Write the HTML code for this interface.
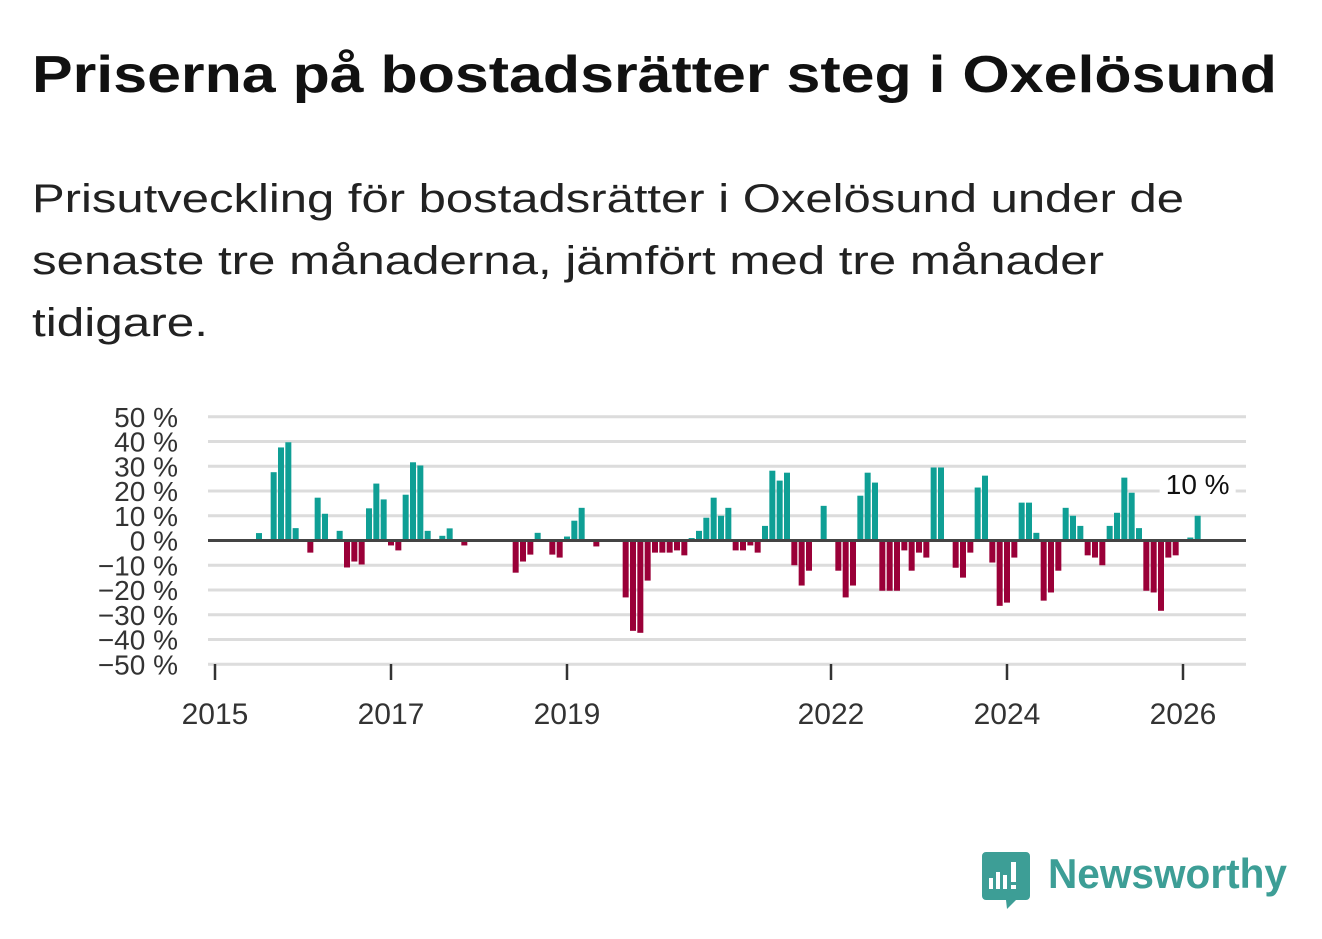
<!DOCTYPE html>
<html><head><meta charset="utf-8"><style>
body{margin:0;background:#fff;width:1322px;height:939px;overflow:hidden}
svg{display:block}
</style></head><body>
<svg id="chart" width="1322" height="939" xmlns="http://www.w3.org/2000/svg">
<text x="32" y="92" font-family="'Liberation Sans',sans-serif" font-weight="bold" font-size="52" fill="#111" textLength="1245" lengthAdjust="spacingAndGlyphs">Priserna på bostadsrätter steg i Oxelösund</text>
<g font-family="'Liberation Sans',sans-serif" font-size="40" fill="#222">
<text x="32" y="212" textLength="1152" lengthAdjust="spacingAndGlyphs">Prisutveckling för bostadsrätter i Oxelösund under de</text>
<text x="32" y="274" textLength="1072" lengthAdjust="spacingAndGlyphs">senaste tre månaderna, jämfört med tre månader</text>
<text x="32" y="336" textLength="176" lengthAdjust="spacingAndGlyphs">tidigare.</text>
</g>
<g id="grid"></g>
<g id="bars"></g>
<g id="axes"></g>
<g>
<path d="M986 852 h40 a4 4 0 0 1 4 4 v40 a4 4 0 0 1 -4 4 h-10 l-9 9 l-1 -9 h-20 a4 4 0 0 1 -4 -4 v-40 a4 4 0 0 1 4 -4z" fill="#3d9e96"/>
<rect x="989" y="878" width="4" height="11" fill="#fff"/>
<rect x="996" y="872" width="4" height="17" fill="#fff"/>
<rect x="1003" y="875" width="4" height="14" fill="#fff"/>
<rect x="1011" y="862" width="5" height="20" fill="#fff"/>
<rect x="1011" y="885" width="5" height="4" fill="#fff"/>
<text x="1048" y="888" font-family="'Liberation Sans',sans-serif" font-weight="bold" font-size="42" fill="#3d9e96" textLength="239" lengthAdjust="spacingAndGlyphs">Newsworthy</text>
</g>
</svg>
<script>
const monthIndex = Array.from({length:135},(_,i)=>i);
const values = [0,0,0,0,0,0,3,0,27.6,37.6,39.7,5,0,-4.9,17.3,10.8,0,3.9,-10.9,-8.5,-9.7,13,23,16.6,-2,-4,18.5,31.6,30.3,3.9,0,1.9,4.9,0,-2,0,0,0,0,0,0,-13,-8.5,-5.7,3.1,0,-5.7,-6.9,1.6,8,13.2,0,-2.4,0,0,0,-23,-36.5,-37.3,-16.2,-4.9,-4.9,-4.9,-4,-6,1,3.9,9.2,17.3,10,13.2,-4,-4,-2,-4.9,5.9,28.2,24.2,27.4,-10,-18.2,-12.2,0,14,0,-12.2,-23,-18.2,18.1,27.4,23.4,-20.3,-20.3,-20.3,-4,-12.2,-4.9,-6.9,29.5,29.5,0,-11,-15,-4.9,21.4,26.2,-8.9,-26.4,-25.1,-6.9,15.3,15.3,3.1,-24.3,-21,-12.2,13.2,10,5.9,-6,-6.9,-10,5.9,11.2,25.4,19.3,5,-20.3,-21,-28.4,-6.9,-6,0,1.2,10];
const yTicks = [50,40,30,20,10,0,-10,-20,-30,-40,-50];
const yearTicks = [2015,2017,2019,2022,2024,2026];
const lastLabel = "10 %";

const NS="http://www.w3.org/2000/svg";
const xScale = m => 215 + m*(176/24);
const yearX = y => xScale((y-2015)*12);
const yScale = v => 540.5 - v*2.475;
function mk(tag, attrs, parent){const e=document.createElementNS(NS,tag);for(const k in attrs)e.setAttribute(k,attrs[k]);parent.appendChild(e);return e;}
const grid=document.getElementById('grid'), bars=document.getElementById('bars'), axes=document.getElementById('axes');
const fmt = v => (v<0?'\u2212'+(-v):''+v)+' %';
yTicks.forEach(t=>{
  if(t!==0){const l=mk('line',{x1:208,x2:1246,y1:yScale(t),y2:yScale(t),stroke:'#dcdcdc','stroke-width':3},grid);
  
  }
  const tx=mk('text',{x:178,y:yScale(t)+10,'text-anchor':'end','font-family':"'Liberation Sans',sans-serif",'font-size':28,fill:'#333'},axes);
  tx.textContent=fmt(t);
  
  
});
values.forEach((v,i)=>{
  if(v===0)return;
  const x=xScale(monthIndex[i]), y0=yScale(0), y1=yScale(v);
  const r=mk('rect',{x:x-3,y:Math.min(y0,y1),width:6,height:Math.abs(y1-y0),fill:v>0?'#0f9f95':'#9a0038'},bars);
  
  
});
const z=mk('line',{x1:208,x2:1246,y1:yScale(0),y2:yScale(0),stroke:'#444','stroke-width':3},axes);


const b=mk('line',{x1:208,x2:1246,y1:664,y2:664,stroke:'#ddd','stroke-width':1.5},axes);


yearTicks.forEach(yr=>{
  const x=yearX(yr);
  const t=mk('line',{x1:x,x2:x,y1:664,y2:680,stroke:'#333','stroke-width':2.5},axes);
  
  
  const l=mk('text',{x:x,y:724,'text-anchor':'middle','font-family':"'Liberation Sans',sans-serif",'font-size':30,fill:'#333'},axes);
  l.textContent=yr;
  
  
});
const li=values.length-1;
const bg=mk('rect',{x:xScale(monthIndex[li])-38,y:468,width:76,height:30,fill:'#fff'},axes);


const lv=mk('text',{x:xScale(monthIndex[li]),y:494,'text-anchor':'middle','font-family':"'Liberation Sans',sans-serif",'font-size':28,fill:'#111'},axes);
lv.textContent=lastLabel;


</script>
</body></html>
